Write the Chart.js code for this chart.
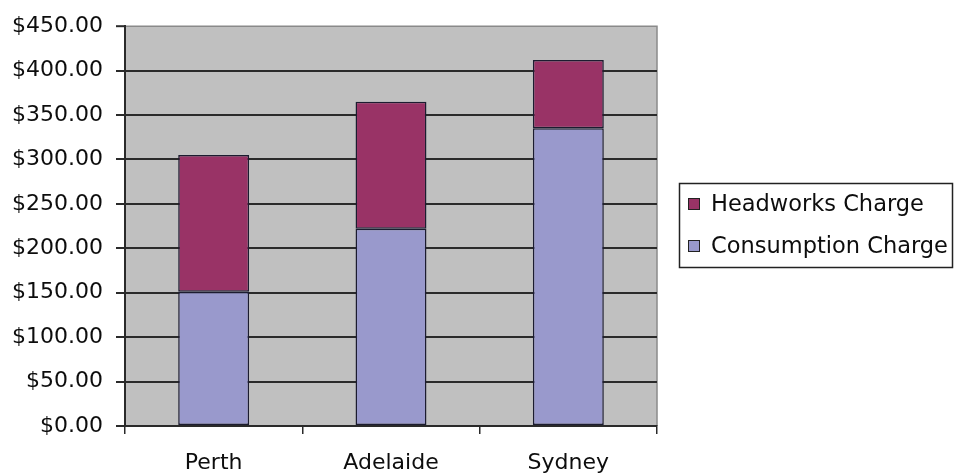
<!DOCTYPE html>
<html>
<head>
<meta charset="utf-8">
<script src="https://cdn.jsdelivr.net/npm/chart.js@4/dist/chart.umd.min.js"></script>
<style>
  html, body { margin: 0; padding: 0; background: #ffffff; }
  #wrap { width: 956px; height: 476px; }
</style>
</head>
<body>
<div id="wrap"><canvas id="c" width="956" height="476"></canvas></div>
<script>
// Water charges per city, split into consumption and headworks components
const categories = ['Perth', 'Adelaide', 'Sydney'];
const consumptionCharge = [151, 222, 335];
const headworksCharge = [154, 143, 77];
const yTicks = [0, 50, 100, 150, 200, 250, 300, 350, 400, 450];

const FONT = { family: '"DejaVu Sans", "Liberation Sans", Arial, sans-serif', size: 22 };
const TEXT = '#0d0d0d';
const LINE = '#2a2a2a';
const FRAME = '#8a8a8a';

// Grey plot area with a thin frame on top and right
const plotBackground = {
  id: 'plotBackground',
  beforeDraw(chart) {
    const { ctx, chartArea: a } = chart;
    ctx.save();
    ctx.fillStyle = '#c0c0c0';
    ctx.fillRect(a.left, a.top, a.right - a.left, a.bottom - a.top);
    ctx.strokeStyle = FRAME;
    ctx.lineWidth = 1.5;
    ctx.beginPath();
    ctx.moveTo(a.left, a.top);
    ctx.lineTo(a.right, a.top);
    ctx.lineTo(a.right, a.bottom);
    ctx.stroke();
    ctx.restore();
  }
};

// Boxed legend to the right of the plot, top series listed first
const boxLegend = {
  id: 'boxLegend',
  afterDraw(chart) {
    const { ctx } = chart;
    const x = 679, y = 183, w = 273, h = 84;
    ctx.save();
    ctx.fillStyle = '#ffffff';
    ctx.fillRect(x, y, w, h);
    ctx.strokeStyle = '#222';
    ctx.lineWidth = 1.5;
    ctx.strokeRect(x + 0.5, y + 0.5, w, h);
    const items = chart.data.datasets.slice().reverse();
    const rows = [204, 246];
    ctx.font = '22.5px ' + FONT.family;
    ctx.textBaseline = 'middle';
    items.forEach((ds, i) => {
      const cy = rows[i];
      ctx.fillStyle = ds.backgroundColor;
      ctx.fillRect(688, cy - 6, 12, 12);
      ctx.strokeStyle = '#222';
      ctx.lineWidth = 1;
      ctx.strokeRect(688.5, cy - 5.5, 11, 11);
      ctx.fillStyle = TEXT;
      ctx.fillText(ds.label, 711, cy + 1);
    });
    ctx.restore();
  }
};

new Chart(document.getElementById('c'), {
  type: 'bar',
  data: {
    labels: categories,
    datasets: [
      {
        label: 'Consumption Charge',
        data: consumptionCharge,
        backgroundColor: '#9999cc',
        borderColor: '#1c1c30',
        borderWidth: 1.5,
        borderSkipped: false,
        categoryPercentage: 0.5,
        barPercentage: 0.8
      },
      {
        label: 'Headworks Charge',
        data: headworksCharge,
        backgroundColor: '#993366',
        borderColor: '#1c1c30',
        borderWidth: 1.5,
        borderSkipped: false,
        categoryPercentage: 0.5,
        barPercentage: 0.8
      }
    ]
  },
  options: {
    responsive: false,
    animation: false,
    layout: { padding: { left: 0, top: 25, right: 299, bottom: 0 } },
    plugins: {
      legend: { display: false },
      tooltip: { enabled: false }
    },
    scales: {
      x: {
        stacked: true,
        afterFit(scale) { scale.height = 50; },
        grid: {
          offset: true,
          drawOnChartArea: false,
          drawTicks: true,
          tickLength: 8,
          color: LINE,
          lineWidth: 1.5
        },
        border: { display: true, color: LINE, width: 2 },
        ticks: { color: TEXT, font: FONT, padding: 16 }
      },
      y: {
        stacked: true,
        min: 0,
        max: 450,
        afterFit(scale) { scale.width = 125; },
        afterBuildTicks(scale) { scale.ticks = yTicks.map(v => ({ value: v })); },
        grid: {
          drawTicks: true,
          tickLength: 9,
          color: LINE,
          lineWidth: ctx => (ctx.tick && ctx.tick.value === 450 ? 0 : 2)
        },
        border: { display: true, color: LINE, width: 2 },
        ticks: {
          color: TEXT,
          font: FONT,
          padding: 13,
          callback: v => '$' + Number(v).toFixed(2)
        }
      }
    }
  },
  plugins: [plotBackground, boxLegend,
    {
      // short outer tick at the top value, since its gridline is the frame
      id: 'topTick',
      afterDraw(chart) {
        const { ctx, chartArea: a } = chart;
        const yPos = chart.scales.y.getPixelForValue(450);
        ctx.save();
        ctx.strokeStyle = LINE;
        ctx.lineWidth = 2;
        ctx.beginPath();
        ctx.moveTo(a.left - 9, yPos);
        ctx.lineTo(a.left, yPos);
        ctx.stroke();
        ctx.restore();
      }
    }
  ]
});
</script>
</body>
</html>
